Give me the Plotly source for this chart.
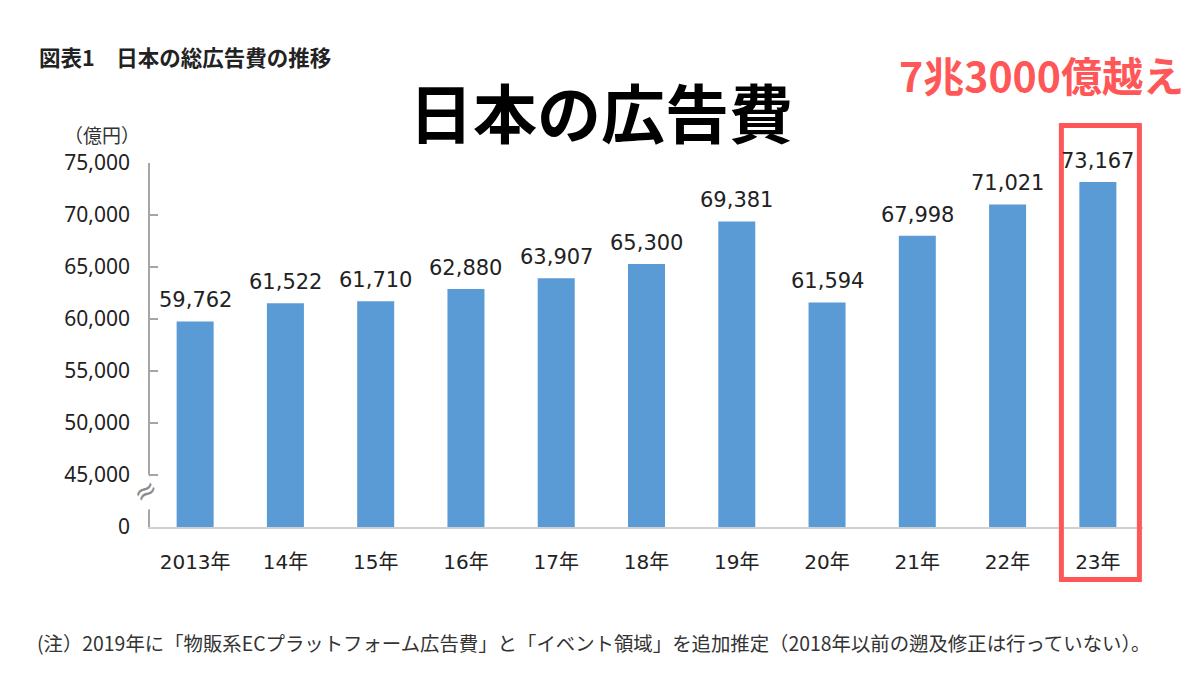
import plotly.graph_objects as go

# ---- data ----
years = ["2013年", "14年", "15年", "16年", "17年", "18年", "19年", "20年", "21年", "22年", "23年"]
ad_spend = [59762, 61522, 61710, 62880, 63907, 65300, 69381, 61594, 67998, 71021, 73167]
tick_values = [40000, 45000, 50000, 55000, 60000, 65000, 70000, 75000]
tick_labels = ["0", "45,000", "50,000", "55,000", "60,000", "65,000", "70,000", "75,000"]

LATIN = "Noto Sans, Noto Sans CJK JP, sans-serif"
WIDE = "DejaVu Sans, Noto Sans CJK JP, sans-serif"
CJK = "Noto Sans CJK JP, Noto Sans, sans-serif"
BAR = "#5B9BD5"
RED = "#FF5757"

PLOT_L, PLOT_R = 150, 1143
PLOT_T, PLOT_B = 163, 527

fig = go.Figure()
fig.add_trace(go.Bar(
    x=list(range(len(years))),
    y=[v - tick_values[0] for v in ad_spend],
    base=tick_values[0],
    width=0.41,
    marker=dict(color=BAR, line=dict(width=0)),
    hovertext=[f"{v:,}" for v in ad_spend],
    hoverinfo="text",
    showlegend=False,
))

annotations = []
for i, v in enumerate(ad_spend):
    annotations.append(dict(
        x=i, y=v, xref="x", yref="y", text=f"{v:,}", showarrow=False,
        yanchor="bottom", yshift=7,
        font=dict(family=WIDE, size=21, color="#222222"),
    ))

def px_x(px):
    return (px - PLOT_L) / float(PLOT_R - PLOT_L)

def px_y(py):
    return (PLOT_B - py) / float(PLOT_B - PLOT_T)

annotations += [
    dict(x=px_x(37), y=px_y(57), xref="paper", yref="paper",
         text="<b>図表1　日本の総広告費の推移</b>", showarrow=False,
         xanchor="left", yanchor="middle",
         font=dict(family=CJK, size=21.5, color="#222222")),
    dict(x=px_x(601), y=px_y(110), xref="paper", yref="paper",
         text="<b>日本の広告費</b>", showarrow=False,
         xanchor="center", yanchor="middle",
         font=dict(family=CJK, size=64, color="#000000")),
    dict(x=px_x(1041), y=px_y(74), xref="paper", yref="paper",
         text="<b>7兆3000億越え</b>", showarrow=False,
         xanchor="center", yanchor="middle",
         font=dict(family=CJK, size=41, color=RED)),
    dict(x=px_x(62), y=px_y(134), xref="paper", yref="paper",
         text="（億円）", showarrow=False,
         xanchor="left", yanchor="middle",
         font=dict(family=CJK, size=19, color="#333333")),
    dict(x=px_x(35), y=px_y(642), xref="paper", yref="paper",
         text="(注）2019年に「物販系ECプラットフォーム広告費」と「イベント領域」を追加推定（2018年以前の遡及修正は行っていない）。",
         showarrow=False, xanchor="left", yanchor="middle",
         font=dict(family=CJK, size=19.4, color="#333333")),
    # axis break mark
    dict(x=px_x(145), y=43400, xref="paper", yref="y", text="≈", showarrow=False,
         xanchor="center", yanchor="middle", textangle=-35,
         bgcolor="white", borderpad=0,
         font=dict(family="DejaVu Sans", size=28, color="#8C8C8C")),
]

last = len(years) - 1
shapes = [
    # red highlight box around the last year
    dict(type="rect", xref="x", yref="paper",
         x0=last - 0.404, x1=last + 0.46,
         y0=px_y(579.5), y1=px_y(125.5),
         line=dict(color=RED, width=5), fillcolor="rgba(0,0,0,0)", layer="above"),
]

fig.update_layout(
    width=1200, height=700,
    margin=dict(l=PLOT_L, r=1200 - PLOT_R, t=PLOT_T, b=700 - PLOT_B),
    paper_bgcolor="white", plot_bgcolor="white",
    annotations=annotations,
    shapes=shapes,
    xaxis=dict(
        tickmode="array", tickvals=list(range(len(years))), ticktext=years,
        range=[-0.5, len(years) - 0.5],
        showline=True, linecolor="#D0D0D0", linewidth=2,
        ticks="", showgrid=False, zeroline=False,
        tickfont=dict(family=WIDE, size=20, color="#222222"),
        ticklabelstandoff=16,
    ),
    yaxis=dict(
        range=[tick_values[0], tick_values[-1]],
        tickmode="array", tickvals=tick_values, ticktext=tick_labels,
        showline=True, linecolor="#A6A6A6", linewidth=1.5,
        ticks="inside", ticklen=8, tickcolor="#A6A6A6", tickwidth=1.5,
        showgrid=False, zeroline=False,
        tickfont=dict(family=LATIN, size=21, color="#222222"),
        ticklabelstandoff=14,
    ),
)

fig.write_html("out.html", config={"displayModeBar": False},
               post_script="document.body.style.margin='0';document.body.style.overflow='hidden';")
